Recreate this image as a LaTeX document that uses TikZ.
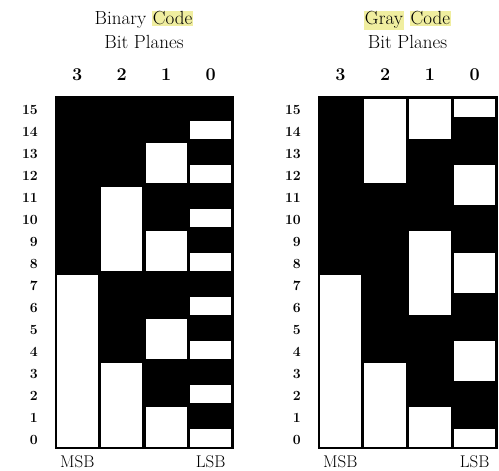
\documentclass[tikz,border=0pt]{standalone}
\usepackage{xcolor}
\definecolor{hlyellow}{RGB}{240,238,160}
\usetikzlibrary{positioning}
\newcommand{\hlword}[1]{{\setlength{\fboxsep}{1pt}\colorbox{hlyellow}{#1}}}
% white run of zeros in column #1, rows #2 up to #3
\newcommand{\zeroblk}[3]{\fill[white] ([shift={(1.6pt,1.6pt)}]#1,#2) rectangle ([shift={(-1.6pt,-1.6pt)}]#1+1,#3);}
\tikzset{
  titlelbl/.style={font=\fontsize{19}{24}\selectfont, align=center},
  bitlbl/.style={font=\fontsize{18}{20}\selectfont\bfseries},
  rowlbl/.style={font=\fontsize{14}{16}\selectfont\bfseries, anchor=east, inner sep=1pt},
  endlbl/.style={font=\fontsize{17}{19}\selectfont},
  plane/.style={fill=black, draw=black, line width=1pt}
}
\begin{document}
\begin{tikzpicture}[x=1pt,y=1pt]
  \useasboundingbox (0,0) rectangle (499,471);
  % binary code planes
  \begin{scope}[shift={(55,22)}, x=44.5pt, y=22pt]
    \draw[plane] (0,0) rectangle (4,16);
    \zeroblk{0}{0}{8}
    \zeroblk{1}{0}{4}
    \zeroblk{1}{8}{12}
    \foreach \r in {0,4,8,12} {\zeroblk{2}{\r}{\r+2}}
    \foreach \r in {0,2,...,14} {\zeroblk{3}{\r}{\r+1}}
    \node[titlelbl] (bintitle) at (2,19.05) {Binary \hlword{Code}\\Bit Planes};
    \foreach \b/\c in {3/0.5,2/1.5,1/2.5,0/3.5}
      \node[bitlbl] (binbit\b) at (\c,17) {\b};
    \foreach \r in {0,...,15}
      \node[rowlbl] (binrow\r) at ([xshift=-16pt,yshift=-2pt]0,\r+0.5) {\r};
    \node[endlbl, below=3pt] (binmsb) at (0.5,0) {MSB};
    \node[endlbl, below=3pt] (binlsb) at (3.5,0) {LSB};
  \end{scope}
  % gray code planes
  \begin{scope}[shift={(318,22)}, x=44.75pt, y=22pt]
    \draw[plane] (0,0) rectangle (4,16);
    \zeroblk{0}{0}{8}
    \zeroblk{1}{0}{4}
    \zeroblk{1}{12}{16}
    \zeroblk{2}{0}{2}
    \zeroblk{2}{6}{10}
    \zeroblk{2}{14}{16}
    \zeroblk{3}{0}{1}
    \foreach \r in {3,7,11} {\zeroblk{3}{\r}{\r+2}}
    \zeroblk{3}{15}{16}
    \node[titlelbl] (graytitle) at (2,19.05) {\hlword{Gray} \hlword{Code}\\Bit Planes};
    \foreach \b/\c in {3/0.5,2/1.5,1/2.5,0/3.5}
      \node[bitlbl] (graybit\b) at (\c,17) {\b};
    \foreach \r in {0,...,15}
      \node[rowlbl] (grayrow\r) at ([xshift=-16pt,yshift=-2pt]0,\r+0.5) {\r};
    \node[endlbl, below=3pt] (graymsb) at (0.5,0) {MSB};
    \node[endlbl, below=3pt] (graylsb) at (3.5,0) {LSB};
  \end{scope}
\end{tikzpicture}
\end{document}
